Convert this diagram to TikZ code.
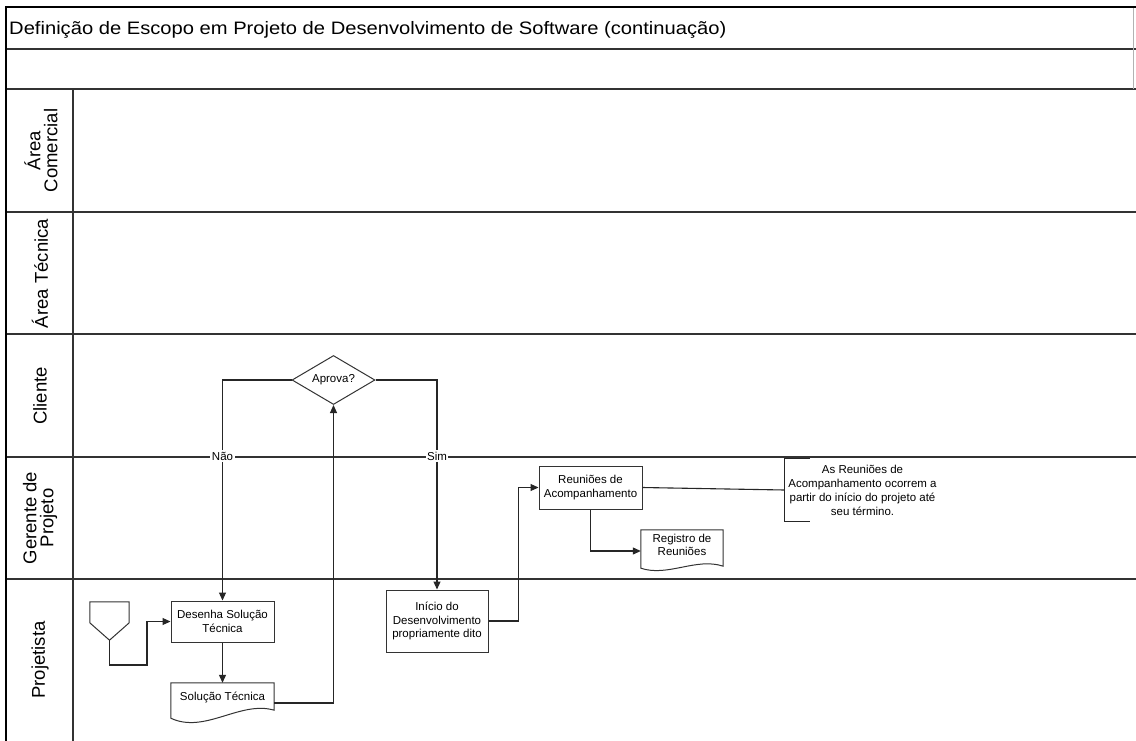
\documentclass[tikz,border=0pt]{standalone}
\usepackage{fontspec}
\setmainfont{Liberation Sans}
\usetikzlibrary{arrows.meta,shapes.geometric,calc}
\begin{document}
\begin{tikzpicture}[x=1pt,y=-1pt,
  frame/.style={draw=black!80,line width=1.4pt},
  shapeline/.style={draw=black!80,line width=1pt},
  box/.style={shapeline,fill=white,inner sep=0pt,align=center,font=\fontsize{11.5}{13.5}\selectfont},
  ntext/.style={inner sep=0pt,align=center,font=\fontsize{11.5}{13.5}\selectfont},
  conn/.style={draw=black!85,line width=1.1pt},
  arr/.style={conn,-{Triangle[length=8pt,width=7pt]}},
  lbl/.style={fill=white,inner sep=1.5pt,font=\fontsize{11.5}{13.5}\selectfont},
  lane/.style={rotate=90,align=center,inner sep=0pt,font=\fontsize{18.5}{17}\selectfont}]
\useasboundingbox (0,0) rectangle (1136,740);
\fill[white] (0,0) rectangle (1136,740);
% frame
\foreach \y in {49,89,212,334,457,579} \draw[frame] (6,\y) -- (1136,\y);
\draw[draw=black!30,line width=0.8pt] (1133,7) -- (1133,89);
\draw[frame] (73,89) -- (73,745);
\draw[black,line width=2pt] (6,7) -- (6,745);
\draw[black,line width=2.6pt] (5,7) -- (1136,7);
% title and lanes
\node[anchor=base west,inner sep=0pt,font=\fontsize{18}{20}\selectfont] (title) at (9,34) {\scalebox{1.12}[1]{Definição de Escopo em Projeto de Desenvolvimento de Software (continuação)}};
\node[lane] (lac) at (41,150.5) {Área\\Comercial};
\node[lane] (lat) at (40,273.5) {Área Técnica};
\node[lane] (lcl) at (40,396) {Cliente};
\node[lane] (lgp) at (40,518) {Gerente de\\Projeto};
\node[lane] (lpj) at (40,660) {Projetista};
% shapes
\node[diamond,shapeline,fill=white,aspect=1.7,inner sep=0pt,minimum width=83pt,minimum height=49pt,font=\fontsize{11.5}{13.5}\selectfont] (apr) at (333.5,380) {Aprova?};
\node[box,minimum width=103pt,minimum height=41pt] (des) at (222.5,621.5) {Desenha Solução\\Técnica};
\node[ntext,minimum width=103pt,minimum height=28pt] (sol) at (222.5,697) {Solução Técnica};
\draw[shapeline] (sol.north west) -- (sol.north east) -- ($(sol.south east)+(0,-1)$) .. controls ($(sol.south east)+(-34,-11)$) and ($(sol.south west)+(34,23)$) .. ($(sol.south west)+(0,7)$) -- cycle;
\node[minimum width=39pt,minimum height=38pt,inner sep=0pt] (fun) at (109.5,621) {};
\draw[shapeline] (fun.north west) -- (fun.north east) -- ($(fun.north east)+(0,21)$) -- (fun.south) -- ($(fun.north west)+(0,21)$) -- cycle;
\node[box,minimum width=102pt,minimum height=62pt] (ini) at (437,621) {Início do\\Desenvolvimento\\propriamente dito};
\node[box,minimum width=103pt,minimum height=43pt] (reu) at (590.5,487.5) {Reuniões de\\Acompanhamento};
\node[ntext,minimum width=82pt,minimum height=30pt] (reg) at (682,545) {Registro de\\Reuniões};
\draw[shapeline] (reg.north west) -- (reg.north east) -- ($(reg.south east)+(0,6)$) .. controls ($(reg.south east)+(-27,-3)$) and ($(reg.south west)+(27,17)$) .. ($(reg.south west)+(0,8)$) -- cycle;
\node[ntext,minimum width=155pt,minimum height=62pt,font=\fontsize{11.5}{14}\selectfont] (nota) at (862.5,490) {As Reuniões de\\Acompanhamento ocorrem a\\partir do início do projeto até\\seu término.};
\draw[conn] ($(nota.north west)+(25,0)$) -- (nota.north west) -- (nota.south west) -- ($(nota.south west)+(25,0)$);
% labels
\node[lbl] (nao) at (222.5,456) {Não};
\node[lbl] (sim) at (437,456) {Sim};
% connectors
\coordinate (fb) at (147,665);
\draw[arr] (fun.south) |- (fb) |- (des.west);
\draw[arr] (des.south) -- (sol.north);
\draw[arr] ($(sol.east)+(0,6)$) -| (apr.south);
\draw[conn] (apr.west) -| (nao.north);
\draw[arr] (nao.south) -- (des.north);
\draw[conn] (apr.east) -| (sim.north);
\draw[arr] (sim.south) -- (ini.north);
\draw[arr] (ini.east) -- ++(30,0) |- (reu.west);
\draw[arr] (reu.south) |- ($(reg.west)+(0,6)$);
\draw[conn] (reu.east) -- (nota.west);
\end{tikzpicture}
\end{document}
